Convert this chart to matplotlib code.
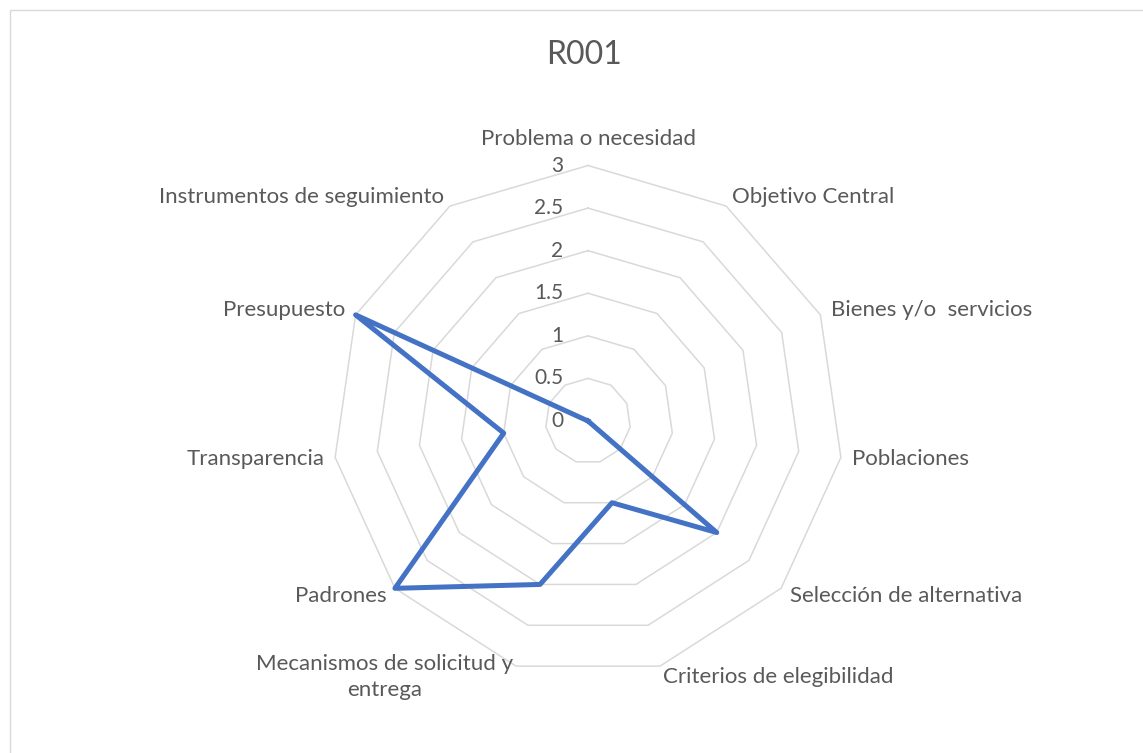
import numpy as np
import matplotlib
matplotlib.use('Agg')
import matplotlib.pyplot as plt
from matplotlib.patches import Rectangle

categories = [
    'Problema o necesidad',
    'Objetivo Central',
    'Bienes y/o  servicios',
    'Poblaciones',
    'Selección de alternativa',
    'Criterios de elegibilidad',
    'Mecanismos de solicitud y\nentrega',
    'Padrones',
    'Transparencia',
    'Presupuesto',
    'Instrumentos de seguimiento',
]
values = [0, 0, 0, 0, 2, 1, 2, 3, 1, 3, 0]
rings = [0, 0.5, 1, 1.5, 2, 2.5, 3]
ring_labels = ['0', '0.5', '1', '1.5', '2', '2.5', '3']
title = 'R001'

text_color = '#595959'
grid_color = '#D9D9D9'
line_color = '#4472C4'
plt.rcParams['font.family'] = ['Lato', 'DejaVu Sans']

fig = plt.figure(figsize=(11.43, 7.53), dpi=100)
fig.patches.append(Rectangle((10 / 1143, -0.1), 1.2, 1 - 10 / 753 + 0.1,
                             transform=fig.transFigure, fill=False,
                             edgecolor='#D9D9D9', linewidth=1))

ax = fig.add_axes([0.2909, 0.1016, 0.4471, 0.6786], projection='polar')
ax.set_theta_offset(np.pi / 2)
ax.set_theta_direction(-1)
ax.set_ylim(0, 3)
ax.grid(False)
ax.spines['polar'].set_visible(False)
ax.set_xticks([])
ax.set_yticks([])
ax.patch.set_alpha(0)

n = len(categories)
angles = np.linspace(0, 2 * np.pi, n, endpoint=False)
closed = np.append(angles, angles[0])

# polygon grid (no spokes, like Excel)
for r in rings[1:]:
    ax.plot(closed, [r] * (n + 1), color=grid_color, lw=1.1, clip_on=False, zorder=1)

# data
ax.plot(closed, values + [values[0]], color=line_color, lw=3.6,
        solid_joinstyle='round', clip_on=False, zorder=3)

# ring labels
for r, lab in zip(rings, ring_labels):
    ax.annotate(lab, xy=(0, r), xytext=(-18, 0), textcoords='offset points',
                ha='right', va='center', fontsize=15, color=text_color)

# category labels
for a, lab in zip(angles, categories):
    sx, sy = np.sin(a), np.cos(a)
    if abs(sx) < 0.05:
        ha = 'center'
        off = (0, 19)
    else:
        ha = 'left' if sx > 0 else 'right'
        off = (8 * sx, 8 * sy)
    ax.annotate(lab, xy=(a, 3), xytext=off, textcoords='offset points',
                ha=ha, va='center', multialignment='center',
                fontsize=16, color=text_color, linespacing=1.4)

fig.text(0.511, 1 - 55 / 753, title, ha='center', va='center',
         fontsize=23, color=text_color)

fig.savefig('out.png', dpi=100, facecolor='white')
